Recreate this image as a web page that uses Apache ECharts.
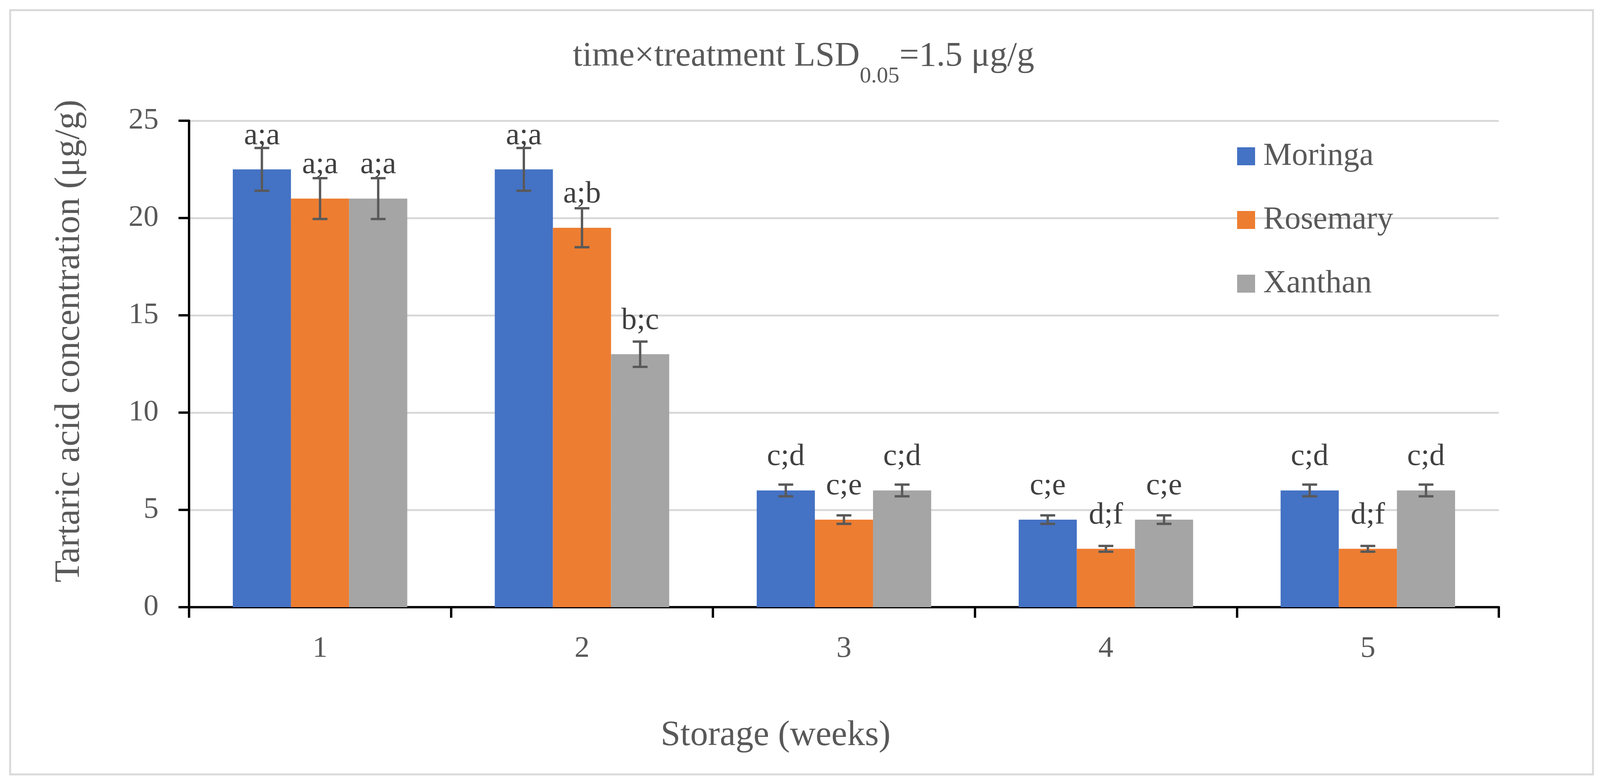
<!DOCTYPE html>
<html>
<head>
<meta charset="utf-8">
<script src="https://cdn.jsdelivr.net/npm/echarts@6/dist/echarts.min.js"></script>
<style>
  html, body { margin: 0; padding: 0; background: #fff; }
  #chart { width: 4104px; height: 2004px; }
</style>
</head>
<body>
<div id="chart"></div>
<script>
// storage weeks and tartaric acid means (µg/g)
const weeks = ['1', '2', '3', '4', '5'];
const moringa = [22.5, 22.5, 6, 4.5, 6];
const rosemary = [21, 19.5, 4.5, 3, 3];
const xanthan = [21, 13, 6, 4.5, 6];

// error bar half-widths
const moringaErr = [1.1, 1.1, 0.3, 0.22, 0.3];
const rosemaryErr = [1.05, 1.0, 0.22, 0.15, 0.15];
const xanthanErr = [1.05, 0.65, 0.3, 0.22, 0.3];

// significance letters
const moringaTxt = ['a;a', 'a;a', 'c;d', 'c;e', 'c;d'];
const rosemaryTxt = ['a;a', 'a;b', 'c;e', 'd;f', 'd;f'];
const xanthanTxt = ['a;a', 'b;c', 'c;d', 'c;e', 'c;d'];

const yTicks = [0, 5, 10, 15, 20, 25];

const FONT = '"Liberation Serif", "DejaVu Serif", serif';
const GAP = 0.334;
const colors = ['#4472C4', '#ED7D31', '#A5A5A5'];

const chart = echarts.init(document.getElementById('chart'));

const barSeries = (name, values, texts) => ({
  name: name,
  type: 'bar',
  data: values,
  barGap: '0%',
  barCategoryGap: (GAP * 100) + '%',
  label: {
    show: true,
    position: 'top',
    distance: 46,
    fontFamily: FONT,
    fontSize: 79,
    lineHeight: 79,
    color: '#404040',
    formatter: p => texts[p.dataIndex],
  },
});

const errSeries = (idx, values, errs) => ({
  type: 'custom',
  z: 5,
  silent: true,
  data: values.map((v, i) => [i, v - errs[i], v + errs[i]]),
  renderItem: (params, api) => {
    const bandW = api.size([1, 0])[0];
    const barW = bandW * (1 - GAP) / 3;
    const lo = api.coord([api.value(0), api.value(1)]);
    const hi = api.coord([api.value(0), api.value(2)]);
    const x = lo[0] + (idx - 1) * barW;
    const cap = 19;
    const style = { stroke: '#595959', lineWidth: 6 };
    return {
      type: 'group',
      children: [
        { type: 'line', shape: { x1: x, y1: lo[1], x2: x, y2: hi[1] }, style: style },
        { type: 'line', shape: { x1: x - cap, y1: lo[1], x2: x + cap, y2: lo[1] }, style: style },
        { type: 'line', shape: { x1: x - cap, y1: hi[1], x2: x + cap, y2: hi[1] }, style: style },
      ],
    };
  },
});

const option = {
  backgroundColor: '#fff',
  color: colors,
  animation: false,
  title: {
    text: '{a|time×treatment LSD}{s|0.05}{a|=1.5 μg/g}',
    left: 2052,
    top: 90,
    textAlign: 'center',
    textStyle: {
      rich: {
        a: { fontFamily: FONT, fontSize: 89, fontWeight: 'normal', color: '#595959', lineHeight: 100 },
        // subscript pushed down with a negative bottom padding
        s: { fontFamily: FONT, fontSize: 58, fontWeight: 'normal', color: '#595959', lineHeight: 100, verticalAlign: 'bottom', padding: [0, 0, -30, 0] },
      },
    },
  },
  graphic: [
    {
      type: 'rect',
      silent: true,
      shape: { x: 26, y: 26, width: 4052, height: 1956 },
      style: { fill: 'none', stroke: '#D9D9D9', lineWidth: 5 },
    },
  ],
  legend: {
    orient: 'vertical',
    left: 3162,
    top: 354,
    icon: 'rect',
    itemWidth: 46,
    itemHeight: 46,
    itemGap: 81,
    selectedMode: false,
    textStyle: { fontFamily: FONT, fontSize: 82, color: '#595959', lineHeight: 82, padding: [0, 0, 0, 16] },
    data: ['Moringa', 'Rosemary', 'Xanthan'],
  },
  grid: { left: 484, right: 267, top: 309, bottom: 450 },
  xAxis: {
    type: 'category',
    data: weeks,
    name: 'Storage (weeks)',
    nameLocation: 'middle',
    nameGap: 284,
    nameTextStyle: { fontFamily: FONT, fontSize: 91, lineHeight: 91, color: '#595959', padding: [0, 350, 0, 0] },
    axisLine: { lineStyle: { color: '#000', width: 6 } },
    axisTick: { show: true, length: 27, lineStyle: { color: '#000', width: 6 } },
    axisLabel: { margin: 68, fontFamily: FONT, fontSize: 77, lineHeight: 77, color: '#595959' },
  },
  yAxis: {
    type: 'value',
    min: yTicks[0],
    max: yTicks[yTicks.length - 1],
    interval: 5,
    name: 'Tartaric acid concentration (μg/g)',
    nameLocation: 'middle',
    nameGap: 260,
    nameTextStyle: { fontFamily: FONT, fontSize: 92, lineHeight: 92, color: '#595959', padding: [0, 0, 0, 117] },
    axisLine: { show: true, lineStyle: { color: '#000', width: 6 } },
    axisTick: { show: true, length: 27, lineStyle: { color: '#000', width: 6 } },
    axisLabel: { margin: 78, fontFamily: FONT, fontSize: 77, color: '#595959' },
    splitLine: { lineStyle: { color: '#D9D9D9', width: 5 } },
  },
  series: [
    barSeries('Moringa', moringa, moringaTxt),
    barSeries('Rosemary', rosemary, rosemaryTxt),
    barSeries('Xanthan', xanthan, xanthanTxt),
    errSeries(0, moringa, moringaErr),
    errSeries(1, rosemary, rosemaryErr),
    errSeries(2, xanthan, xanthanErr),
  ],
};

chart.setOption(option);
</script>
</body>
</html>
